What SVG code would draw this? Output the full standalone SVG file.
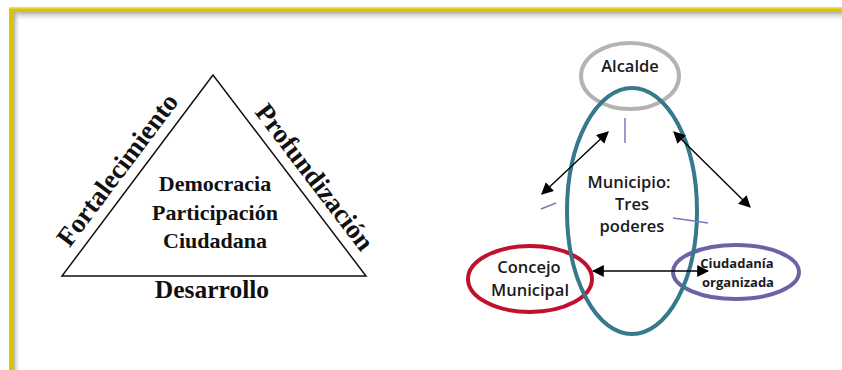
<svg xmlns="http://www.w3.org/2000/svg" width="842" height="370" viewBox="0 0 842 370">
  <defs>
    <linearGradient id="shTop" x1="0" y1="0" x2="0" y2="1">
      <stop offset="0" stop-color="#9a9a9a" stop-opacity="0.8"/>
      <stop offset="1" stop-color="#ffffff" stop-opacity="0"/>
    </linearGradient>
    <linearGradient id="shLeft" x1="0" y1="0" x2="1" y2="0">
      <stop offset="0" stop-color="#9a9a9a" stop-opacity="0.7"/>
      <stop offset="1" stop-color="#ffffff" stop-opacity="0"/>
    </linearGradient>
    <marker id="ah" viewBox="0 0 10 10" refX="9" refY="5" markerWidth="12" markerHeight="12" markerUnits="userSpaceOnUse" orient="auto-start-reverse">
      <path d="M0,0 L10,5 L0,10 z" fill="#000"/>
    </marker>
  </defs>
  <style>
    .serif { font-family: "Liberation Serif", "Times New Roman", serif; font-weight: bold; fill: #111; }
    .sans { font-family: "Open Sans", "Liberation Sans", Arial, sans-serif; font-weight: 600; fill: #1a1a1a; }
    .sans.b { font-weight: 700; }
    .arrow { stroke: #000; stroke-width: 1.4; fill: none; marker-start: url(#ah); marker-end: url(#ah); }
    .tick { stroke: #7b78b8; stroke-width: 1.5; fill: none; }
    .ring { fill: none; stroke-width: 4; }
  </style>

  <rect x="0" y="0" width="842" height="370" fill="#ffffff"/>

  <!-- frame -->
  <g id="frame">
    <rect x="14" y="12" width="828" height="10" fill="url(#shTop)"/>
    <rect x="14" y="12" width="7" height="358" fill="url(#shLeft)"/>
    <rect x="9" y="7" width="833" height="5" fill="#dcc300"/>
    <rect x="9" y="7" width="5" height="363" fill="#dcc300"/>
    <rect x="9" y="7" width="833" height="1.5" fill="#eedd55"/>
  </g>

  <!-- triangle diagram -->
  <g id="triangle">
    <polygon points="213,75 62,276 366,276" fill="none" stroke="#111" stroke-width="1.5"/>
  </g>
  <g id="center-text">
    <text class="serif" font-size="22" text-anchor="middle" x="215" y="191">Democracia</text>
    <text class="serif" font-size="22" text-anchor="middle" x="215" y="220">Participación</text>
    <text class="serif" font-size="22" text-anchor="middle" x="215" y="248">Ciudadana</text>
  </g>
  <g id="label-desarrollo">
    <text class="serif" font-size="25.5" text-anchor="middle" x="212" y="298">Desarrollo</text>
  </g>
  <g id="label-fortalecimiento">
    <text class="serif" font-size="27" text-anchor="middle" transform="translate(124.5,175) rotate(-53.1)">Fortalecimiento</text>
  </g>
  <g id="label-profundizacion">
    <text class="serif" font-size="27" text-anchor="middle" transform="translate(307.5,182.5) rotate(52.7)">Profundización</text>
  </g>

  <!-- municipal diagram -->
  <g id="alcalde">
    <ellipse class="ring" cx="630" cy="76" rx="49" ry="33" stroke="#b3b3b3"/>
    <text class="sans" font-size="16.5" text-anchor="middle" x="630" y="72">Alcalde</text>
  </g>
  <g id="concejo">
    <ellipse class="ring" cx="530" cy="279" rx="62" ry="33" stroke="#c0102e"/>
    <text class="sans" font-size="16.5" text-anchor="middle" x="529" y="273">Concejo</text>
    <text class="sans" font-size="16.5" text-anchor="middle" x="530" y="296">Municipal</text>
  </g>
  <g id="ciudadania">
    <ellipse class="ring" cx="736" cy="272" rx="63" ry="27" stroke="#6a63a6"/>
    <text class="sans b" font-size="13" text-anchor="middle" x="737" y="268">Ciudadanía</text>
    <text class="sans b" font-size="13" text-anchor="middle" x="738" y="287">organizada</text>
  </g>
  <g id="municipio">
    <ellipse class="ring" cx="632" cy="211" rx="65" ry="123" stroke="#36788c"/>
    <text class="sans" font-size="16.5" text-anchor="middle" x="629" y="188">Municipio:</text>
    <text class="sans" font-size="16.5" text-anchor="middle" x="632" y="210">Tres</text>
    <text class="sans" font-size="16.5" text-anchor="middle" x="632" y="232">poderes</text>
  </g>

  <g id="connectors">
    <line class="arrow" x1="542" y1="194" x2="608" y2="132"/>
    <line class="arrow" x1="674" y1="132" x2="750" y2="207"/>
    <line class="arrow" x1="593" y1="271" x2="708" y2="271"/>
    <line class="tick" x1="625" y1="118" x2="625" y2="143"/>
    <line class="tick" x1="541" y1="209" x2="556" y2="203"/>
    <line class="tick" x1="673" y1="218" x2="708" y2="223"/>
  </g>
</svg>
